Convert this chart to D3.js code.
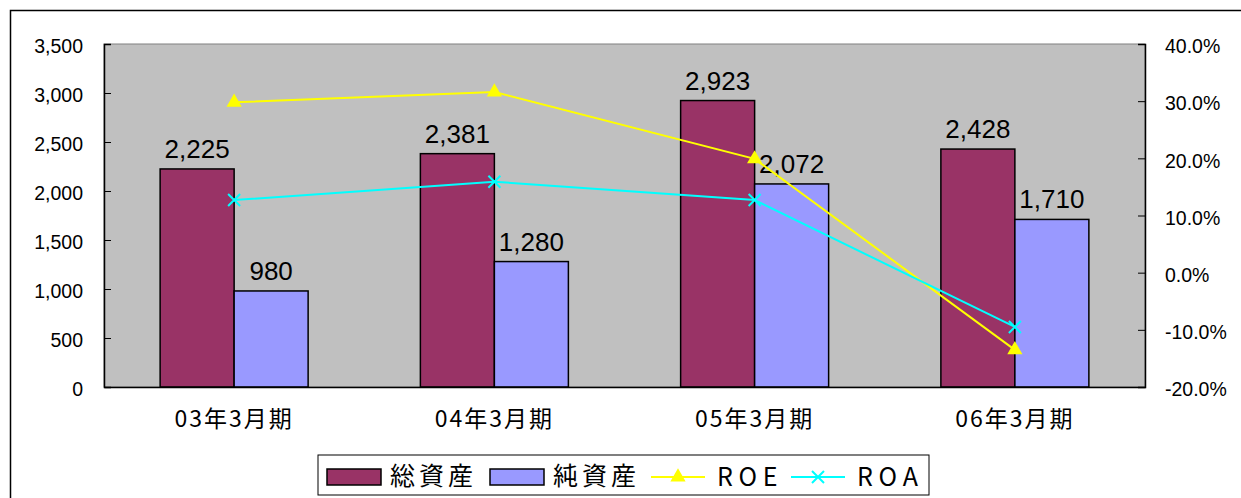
<!DOCTYPE html>
<html>
<head>
<meta charset="utf-8">
<script src="https://cdn.jsdelivr.net/npm/d3@7"></script>
<style>
  body { margin: 0; background: #fff; }
  svg { display: block; }
  text { font-family: "Liberation Sans", Arial, sans-serif; fill: #000; }
  .cjk { font-family: "Noto Sans CJK JP", "Noto Sans", sans-serif; }
</style>
</head>
<body>
<div id="chart-area"></div>
<script>
// data
let categories = ['03年3月期', '04年3月期', '05年3月期', '06年3月期'];
let totalAssets = [2225, 2381, 2923, 2428];
let netAssets = [980, 1280, 2072, 1710];
let roe = [29.8, 31.6, 19.9, -13.5];
let roa = [12.7, 15.9, 12.7, -9.5];
let leftTicks = [0, 500, 1000, 1500, 2000, 2500, 3000, 3500];
let rightTicks = [-20, -10, 0, 10, 20, 30, 40];

let W = 1241, H = 498;
let margin = { top: 44, right: 96, bottom: 111, left: 104 };
let width = W - margin.left - margin.right,
  height = H - margin.top - margin.bottom;

let root = d3.select('#chart-area').append('svg')
  .attr('width', W).attr('height', H);

// outer frame (runs off the right/bottom edge like the reference)
root.append('rect')
  .attr('x', 10.5).attr('y', 10.5)
  .attr('width', 1260).attr('height', 520)
  .attr('fill', 'none').attr('stroke', '#000').attr('stroke-width', 1.5);

let svg = root.append('g')
  .attr('transform', 'translate(' + margin.left + ',' + margin.top + ')');

// Scales
let x = d3.scaleBand().domain(categories).range([0, width]);
let xs = d3.scaleBand().domain(['total', 'net']).range([0, 148]);
let y = d3.scaleLinear().domain([0, 3500]).range([height, 0]);
let y2 = d3.scaleLinear().domain([-20, 40]).range([height, 0]);

// plot background
svg.append('rect')
  .attr('width', width).attr('height', height)
  .attr('fill', '#C0C0C0').attr('stroke', '#808080').attr('stroke-width', 1);

// bars
let groupOffset = (x.bandwidth() - 148) / 2;
let series = [
  { key: 'total', values: totalAssets, color: '#993366' },
  { key: 'net', values: netAssets, color: '#9999FF' }
];
series.forEach(s => {
  svg.selectAll('.bar-' + s.key)
    .data(s.values)
    .enter().append('rect')
    .attr('class', 'bar-' + s.key)
    .attr('x', (d, i) => x(categories[i]) + groupOffset + xs(s.key))
    .attr('y', d => y(d))
    .attr('width', xs.bandwidth())
    .attr('height', d => height - y(d))
    .attr('fill', s.color)
    .attr('stroke', '#000').attr('stroke-width', 1.5);

  svg.selectAll('.lbl-' + s.key)
    .data(s.values)
    .enter().append('text')
    .attr('x', (d, i) => x(categories[i]) + groupOffset + xs(s.key) + xs.bandwidth() / 2)
    .attr('y', d => y(d) - 11)
    .attr('text-anchor', 'middle')
    .style('font-size', '26px')
    .text(d => d3.format(',')(d));
});

// axes
let yAxis = d3.axisLeft(y).tickValues(leftTicks).tickSize(-7).tickPadding(21)
  .tickFormat(d3.format(','));
let ySvg = svg.append('g').call(yAxis);
ySvg.select('.domain').attr('stroke', '#000').attr('stroke-width', 1.5);
ySvg.selectAll('text').style('font-size', '19.5px').attr('font-family', null)
  .attr('dy', '0.45em');

let y2Axis = d3.axisRight(y2).tickValues(rightTicks).tickSize(-7).tickPadding(20)
  .tickFormat(d => d.toFixed(1) + '%');
let y2Svg = svg.append('g').attr('transform', 'translate(' + width + ',0)').call(y2Axis);
y2Svg.select('.domain').attr('stroke', '#000').attr('stroke-width', 1.5);
y2Svg.selectAll('text').style('font-size', '19.5px').attr('font-family', null)
  .attr('dy', '0.45em');

let xAxis = d3.axisBottom(x).tickSize(0).tickPadding(24);
let xSvg = svg.append('g').attr('transform', 'translate(0,' + height + ')').call(xAxis);
xSvg.select('.domain').attr('stroke', '#000').attr('stroke-width', 1.5);
xSvg.selectAll('text').attr('class', 'cjk').attr('font-family', null)
  .style('font-size', '23px').style('letter-spacing', '2px');

// lines
let cx = c => x(c) + x.bandwidth() / 2;
let line = d3.line().x((d, i) => cx(categories[i])).y(d => y2(d));

svg.append('path').datum(roe).attr('d', line)
  .attr('fill', 'none').attr('stroke', '#FFFF00').attr('stroke-width', 2);
svg.append('path').datum(roa).attr('d', line)
  .attr('fill', 'none').attr('stroke', '#00FFFF').attr('stroke-width', 2);

let tri = d3.symbol().type(d3.symbolTriangle).size(100);
svg.selectAll('.roe-pt').data(roe).enter().append('path')
  .attr('transform', (d, i) => 'translate(' + cx(categories[i]) + ',' + y2(d) + ')')
  .attr('d', tri).attr('fill', '#FFFF00');

svg.selectAll('.roa-pt').data(roa).enter().append('path')
  .attr('transform', (d, i) => 'translate(' + cx(categories[i]) + ',' + y2(d) + ')')
  .attr('d', 'M-6,-6L6,6M-6,6L6,-6')
  .attr('stroke', '#00FFFF').attr('stroke-width', 2);

// legend
let lg = root.append('g').attr('transform', 'translate(318,455)');
lg.append('rect').attr('width', 611).attr('height', 40)
  .attr('fill', '#fff').attr('stroke', '#000').attr('stroke-width', 1);

let legendItems = [
  { name: '総資産', type: 'bar', color: '#993366', x: 9, tx: 72 },
  { name: '純資産', type: 'bar', color: '#9999FF', x: 172, tx: 235 },
  { name: 'R O E', type: 'line', color: '#FFFF00', x: 333, tx: 399 },
  { name: 'R O A', type: 'line', color: '#00FFFF', x: 473, tx: 539 }
];
legendItems.forEach(it => {
  if (it.type === 'bar') {
    lg.append('rect').attr('x', it.x).attr('y', 14).attr('width', 54).attr('height', 16)
      .attr('fill', it.color).attr('stroke', '#000').attr('stroke-width', 1.5);
  } else {
    lg.append('line').attr('x1', it.x).attr('x2', it.x + 54).attr('y1', 22).attr('y2', 22)
      .attr('stroke', it.color).attr('stroke-width', 2);
    if (it.name === 'R O E') {
      lg.append('path').attr('transform', 'translate(' + (it.x + 27) + ',22)')
        .attr('d', tri).attr('fill', it.color);
    } else {
      lg.append('path').attr('transform', 'translate(' + (it.x + 27) + ',22)')
        .attr('d', 'M-6,-6L6,6M-6,6L6,-6')
        .attr('stroke', it.color).attr('stroke-width', 2);
    }
  }
  lg.append('text').attr('class', 'cjk').attr('x', it.tx).attr('y', it.type === 'bar' ? 30 : 31)
    .style('font-size', '25px').style('letter-spacing', it.type === 'bar' ? '4px' : '0px')
    .text(it.name);
});
</script>
</body>
</html>
